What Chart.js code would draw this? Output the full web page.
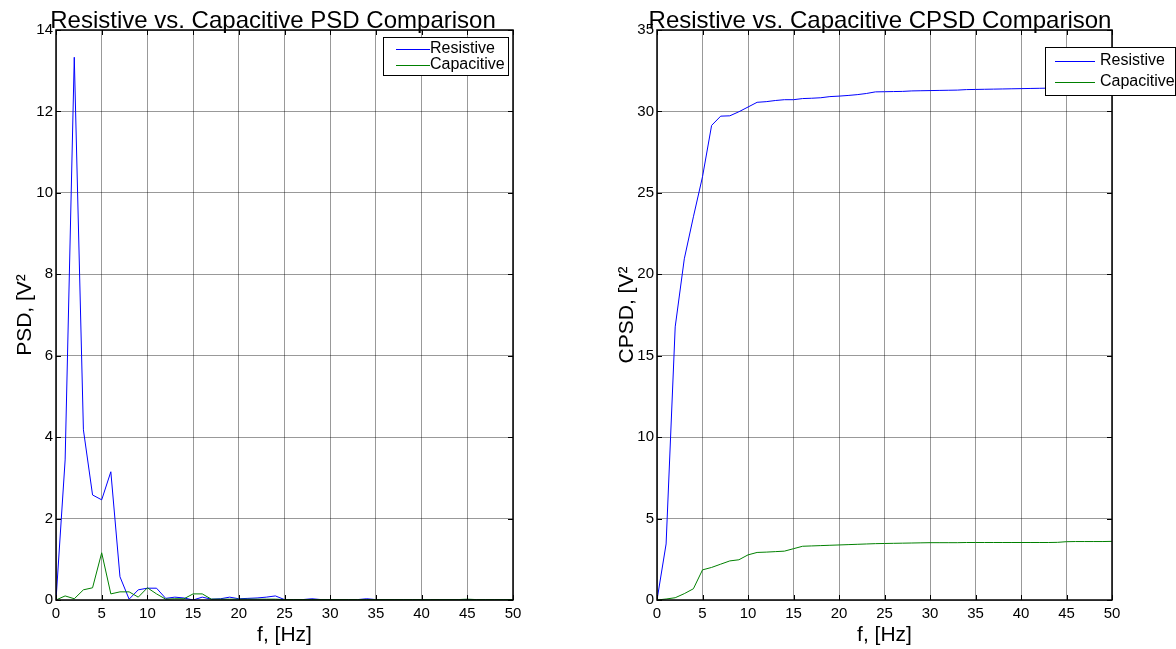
<!DOCTYPE html>
<html><head><meta charset="utf-8">
<script src="https://cdn.jsdelivr.net/npm/chart.js@4/dist/chart.umd.min.js"></script>
<style>
html,body{margin:0;padding:0;background:#fff;width:1176px;height:649px;overflow:hidden;}
.wrap{position:absolute;top:0;width:588px;height:649px;}
</style></head>
<body>
<div class="wrap" style="left:0"><canvas id="c1" width="588" height="649"></canvas></div>
<div class="wrap" style="left:588px"><canvas id="c2" width="588" height="649"></canvas></div>
<script>
const freq = [0,1,2,3,4,5,6,7,8,9,10,11,12,13,14,15,16,17,18,19,20,21,22,23,24,25,26,27,28,29,30,31,32,33,34,35,36,37,38,39,40,41,42,43,44,45,46,47,48,49,50];
const psdResistive = [0,3.44,13.33,4.18,2.58,2.46,3.15,0.57,0.02,0.25,0.29,0.29,0.04,0.07,0.05,0.0,0.07,0.02,0.03,0.07,0.03,0.04,0.05,0.07,0.10,0.01,0.01,0.01,0.03,0.01,0.01,0.01,0.01,0.01,0.03,0.01,0.01,0.01,0.01,0.01,0.01,0.01,0.01,0.01,0.01,0.01,0.01,0.01,0.01,0.01,0.01];
const psdCapacitive = [0,0.10,0.03,0.25,0.30,1.16,0.15,0.20,0.20,0.07,0.30,0.15,0.02,0.03,0.03,0.15,0.15,0.02,0.02,0.02,0.02,0.02,0.02,0.02,0.02,0.01,0.01,0.01,0.01,0.01,0.01,0.01,0.01,0.01,0.01,0.01,0.01,0.01,0.01,0.01,0.01,0.01,0.01,0.01,0.01,0.02,0.01,0.01,0.01,0.01,0.01];
const cpsdResistive = [0,3.44,16.77,20.95,23.53,25.99,29.14,29.71,29.73,29.98,30.27,30.56,30.60,30.67,30.72,30.72,30.79,30.81,30.84,30.91,30.94,30.98,31.03,31.10,31.20,31.21,31.22,31.23,31.26,31.27,31.28,31.29,31.30,31.31,31.34,31.35,31.36,31.37,31.38,31.39,31.40,31.41,31.42,31.43,31.44,31.45,31.46,31.47,31.48,31.49,31.50];
const cpsdCapacitive = [0,0.06,0.14,0.39,0.69,1.85,2.00,2.20,2.40,2.47,2.77,2.92,2.94,2.97,3.00,3.15,3.30,3.32,3.34,3.36,3.38,3.40,3.42,3.44,3.46,3.47,3.48,3.49,3.50,3.51,3.52,3.52,3.52,3.52,3.53,3.53,3.53,3.53,3.53,3.53,3.53,3.53,3.53,3.53,3.54,3.58,3.59,3.59,3.59,3.59,3.60];
const xTicks = [0,5,10,15,20,25,30,35,40,45,50];
const psdTicks = [0,2,4,6,8,10,12,14];
const cpsdTicks = [0,5,10,15,20,25,30,35];
const seriesNames = ['Resistive','Capacitive'];
const titles = ['Resistive vs. Capacitive PSD Comparison','Resistive vs. Capacitive CPSD Comparison'];
const yTitles = ['PSD, [V²','CPSD, [V²'];
const xTitle = 'f, [Hz]';

const FONT = '"Liberation Sans", Arial, Helvetica, sans-serif';
const BLUE = '#0000ff', GREEN = '#008000';

function pts(ys){ return freq.map((f,i)=>({x:f,y:ys[i]})); }

function decor(cfg){
  return {
    id:'decor'+cfg.id,
    afterDraw(chart){
      const ctx = chart.ctx, a = chart.chartArea;
      const xs = chart.scales.x, ys = chart.scales.y;
      ctx.save();
      ctx.strokeStyle = '#000'; ctx.lineWidth = 1;
      ctx.beginPath();
      xTicks.forEach(t=>{ const px = Math.round(xs.getPixelForValue(t))+0.5;
        ctx.moveTo(px,a.bottom); ctx.lineTo(px,a.bottom-5);
        ctx.moveTo(px,a.top); ctx.lineTo(px,a.top+5); });
      cfg.yticks.forEach(t=>{ const py = Math.round(ys.getPixelForValue(t))+0.5;
        ctx.moveTo(a.left,py); ctx.lineTo(a.left+5,py);
        ctx.moveTo(a.right,py); ctx.lineTo(a.right-5,py); });
      ctx.stroke();
      ctx.strokeStyle = '#000'; ctx.lineWidth = 1.5;
      ctx.strokeRect(a.left, a.top, a.right-a.left, a.bottom-a.top);
      ctx.fillStyle = '#000';
      ctx.font = '24px ' + FONT;
      ctx.textAlign = 'center'; ctx.textBaseline = 'alphabetic';
      ctx.fillText(cfg.title, cfg.titleX, 28);
      ctx.font = '21px ' + FONT;
      ctx.textBaseline = 'middle';
      ctx.fillText(xTitle, (a.left+a.right)/2, 635);
      ctx.save();
      ctx.translate(cfg.yTitleX, (a.top+a.bottom)/2);
      ctx.rotate(-Math.PI/2);
      ctx.fillText(cfg.yTitle, 0, 0);
      ctx.restore();
      const L = cfg.legend;
      ctx.fillStyle = '#fff';
      ctx.fillRect(L.x, L.y, L.w, L.h);
      ctx.strokeStyle = '#000'; ctx.lineWidth = 1;
      ctx.strokeRect(L.x+0.5, L.y+0.5, L.w, L.h);
      const cols = [BLUE, GREEN];
      seriesNames.forEach((n,i)=>{
        const yy = L.y + L.r[i];
        ctx.strokeStyle = cols[i]; ctx.lineWidth = 1;
        ctx.beginPath(); ctx.moveTo(L.lx0, yy+0.5); ctx.lineTo(L.lx1, yy+0.5); ctx.stroke();
        ctx.fillStyle = '#000'; ctx.font = '16px ' + FONT;
        ctx.textAlign = 'left'; ctx.textBaseline = 'middle';
        ctx.fillText(n, L.tx, yy);
      });
      ctx.restore();
    }
  };
}

function makeChart(id, d1, d2, yMax, yticks, cfg, padRight){
  return new Chart(document.getElementById(id), {
    type:'line',
    data:{ datasets:[
      {label:seriesNames[0], data:pts(d1), borderColor:BLUE, borderWidth:1, pointRadius:0, tension:0, fill:false, order:1},
      {label:seriesNames[1], data:pts(d2), borderColor:GREEN, borderWidth:1, pointRadius:0, tension:0, fill:false, order:0}
    ]},
    options:{
      responsive:false, animation:false, events:[],
      layout:{padding:{top:30,right:padRight,left:0,bottom:0}},
      plugins:{legend:{display:false}, tooltip:{enabled:false}, title:{display:false}},
      scales:{
        x:{type:'linear', min:0, max:50,
           afterBuildTicks(s){ s.ticks = xTicks.map(v=>({value:v})); },
           afterFit(s){ s.height = 49; },
           grid:{color:'rgba(0,0,0,0.4)', drawTicks:false, lineWidth:1},
           border:{display:false},
           ticks:{color:'#000', font:{family:FONT, size:15}, padding:5, maxRotation:0}},
        y:{type:'linear', min:0, max:yMax,
           afterBuildTicks(s){ s.ticks = yticks.map(v=>({value:v})); },
           afterFit(s){ s.width = cfg.yWidth; },
           grid:{color:'rgba(0,0,0,0.4)', drawTicks:false, lineWidth:1},
           border:{display:false},
           ticks:{color:'#000', font:{family:FONT, size:15}, padding:3}}
      }
    },
    plugins:[decor(Object.assign({yticks}, cfg))]
  });
}

makeChart('c1', psdResistive, psdCapacitive, 14, psdTicks, {
  id:1, title:titles[0], titleX:273, yTitle:yTitles[0], yTitleX:25, yWidth:56,
  legend:{x:383, y:37, w:125, h:38, r:[12,28], lx0:396, lx1:430, tx:430}
}, 75);

makeChart('c2', cpsdResistive, cpsdCapacitive, 35, cpsdTicks, {
  id:2, title:titles[1], titleX:880-588, yTitle:yTitles[1], yTitleX:627-588, yWidth:69,
  legend:{x:1045-588, y:47, w:130, h:48, r:[14,35], lx0:1055-588, lx1:1095-588, tx:1100-588}
}, 64);
</script>
</body></html>
